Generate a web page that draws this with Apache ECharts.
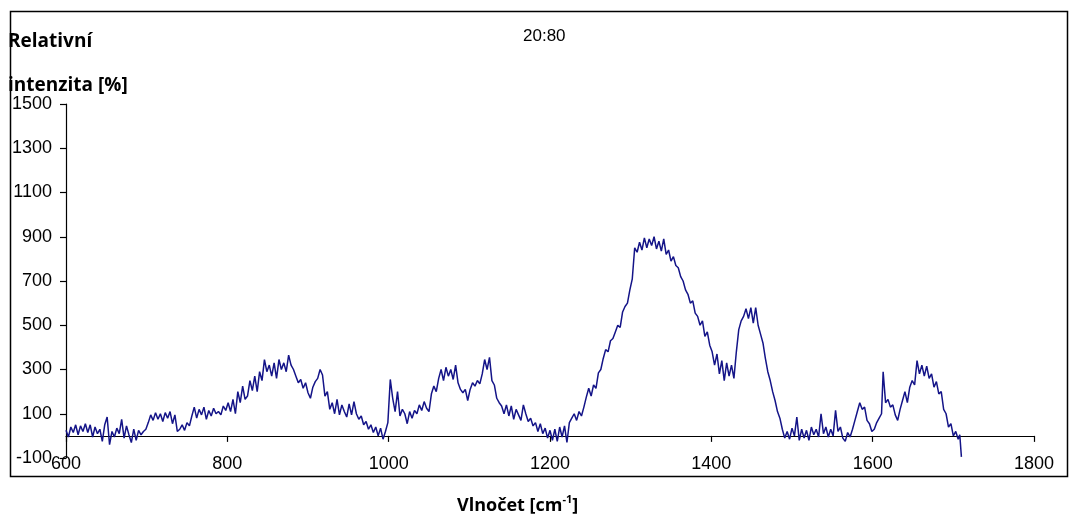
<!DOCTYPE html>
<html>
<head>
<meta charset="utf-8">
<script src="https://cdn.jsdelivr.net/npm/echarts@6/dist/echarts.min.js"></script>
<style>
html,body{margin:0;padding:0;background:#fff;}
#chart{width:1072px;height:517px;}
</style>
</head>
<body>
<div id="chart"></div>
<script>
// Wavenumbers [cm^-1]
var wavenumbers = [
600,603,606,609,612,615,618,621,624,627,630,633,636,639,642,645,648,651,654,657,660,663,666,669,672,675,678,681,684,687,690,693,696,699,
702,705,708,711,714,717,720,723,726,729,732,735,738,741,744,747,750,753,756,759,762,765,768,771,774,777,780,783,786,789,792,795,798,
801,804,807,810,813,816,819,822,825,828,831,834,837,840,843,846,849,852,855,858,861,864,867,870,873,876,879,882,885,888,891,894,897,
900,903,906,909,912,915,918,921,924,927,930,933,936,939,942,945,948,951,954,957,960,963,966,969,972,975,978,981,984,987,990,993,996,999,
1002,1005,1008,1011,1014,1017,1020,1023,1026,1029,1032,1035,1038,1041,1044,1047,1050,1053,1056,1059,1062,1065,1068,1071,1074,1077,1080,1083,1086,1089,1092,1095,1098,
1101,1104,1107,1110,1113,1116,1119,1122,1125,1128,1131,1134,1137,1140,1143,1146,1149,1152,1155,1158,1161,1164,1167,1170,1173,1176,1179,1182,1185,1188,1191,1194,1197,
1200,1203,1206,1209,1212,1215,1218,1221,1224,1227,1230,1233,1236,1239,1242,1245,1248,1251,1254,1257,1260,1263,1266,1269,1272,1275,1278,1281,1284,1287,1290,1293,1296,1299,
1302,1305,1308,1311,1314,1317,1320,1323,1326,1329,1332,1335,1338,1341,1344,1347,1350,1353,1356,1359,1362,1365,1368,1371,1374,1377,1380,1383,1386,1389,1392,1395,1398,
1401,1404,1407,1410,1413,1416,1419,1422,1425,1428,1431,1434,1437,1440,1443,1446,1449,1452,1455,1458,1461,1464,1467,1470,1473,1476,1479,1482,1485,1488,1491,1494,1497,
1500,1503,1506,1509,1512,1515,1518,1521,1524,1527,1530,1533,1536,1539,1542,1545,1548,1551,1554,1557,1560,1563,1566,1569,1572,1575,1578,1581,1584,1587,1590,1593,1596,1599,
1602,1605,1608,1611,1613,1616,1619,1622,1625,1628,1631,1634,1637,1640,1643,1646,1649,1652,1655,1658,1661,1664,1667,1670,1673,1676,1679,1682,1685,1688,1691,1694,1697,1700,1703,1706,1708,1710
];
// Relative intensity [%]
var intensity = [
25,-5,40,15,50,5,45,20,55,15,50,-5,40,10,30,-25,50,85,-40,20,-5,35,10,75,-10,45,5,-30,30,-20,25,5,20,30,
60,95,70,105,75,100,65,105,80,110,55,95,20,30,50,25,60,45,90,130,80,120,95,130,75,115,90,125,100,110,95,135,115,
150,110,165,100,200,150,225,165,180,250,205,270,200,290,250,345,290,320,270,330,260,345,300,330,290,365,320,300,270,240,255,215,240,
195,170,220,245,260,300,275,180,200,120,150,100,165,95,140,110,85,145,95,155,100,75,90,50,65,30,50,15,40,0,35,-15,20,60,
255,170,110,200,90,120,100,55,110,80,115,100,140,115,155,125,110,190,225,200,260,300,250,310,270,300,255,320,240,210,195,210,160,
210,240,225,250,235,280,345,300,355,250,230,170,150,135,100,140,90,135,75,120,95,70,140,100,65,80,45,60,20,55,10,35,-10,
25,-20,30,-25,40,-5,45,-30,60,80,100,70,110,90,130,175,215,180,230,215,285,300,350,390,380,430,440,470,500,490,560,585,600,660,
710,850,830,875,840,895,850,890,860,900,845,880,835,890,820,840,790,810,770,760,720,700,660,640,600,610,555,540,500,520,450,470,410,
380,320,370,280,340,250,330,270,320,260,380,480,520,540,575,530,580,510,580,500,460,420,350,290,250,200,160,110,80,30,-10,20,-15,
35,0,85,-20,30,-10,25,-20,40,5,30,-5,100,10,40,-5,30,0,115,20,40,-10,-25,15,-5,30,70,110,150,120,130,70,55,20,
30,60,80,100,290,150,165,130,140,95,70,120,160,200,150,220,250,230,340,280,320,270,315,260,280,220,245,190,200,120,100,40,55,0,20,-15,5,-95
];
// Axis tick labels
var xTicks = [600, 800, 1000, 1200, 1400, 1600, 1800];
var yTicks = [-100, 100, 300, 500, 700, 900, 1100, 1300, 1500];

var seriesData = wavenumbers.map(function (w, i) { return [w, intensity[i]]; });
var plain = function (v) { return String(v); };

var chart = echarts.init(document.getElementById('chart'), null, {renderer: 'canvas'});
var option = {
  animation: false,
  backgroundColor: '#ffffff',
  grid: {left: 66, right: 38, top: 104, bottom: 59, containLabel: false},
  xAxis: [
    {
      type: 'value', min: 600, max: 1800, position: 'bottom',
      axisLine: {show: false, onZero: false},
      axisTick: {show: false},
      splitLine: {show: false},
      axisLabel: {
        show: true, customValues: xTicks, margin: -3, formatter: plain,
        fontFamily: 'Liberation Sans, Arial, sans-serif', fontSize: 18, color: '#000'
      }
    },
    {
      type: 'value', min: 600, max: 1800, position: 'bottom',
      axisLine: {show: true, onZero: true, lineStyle: {color: '#000', width: 1.2}},
      axisTick: {show: true, customValues: xTicks, length: 6, lineStyle: {color: '#000', width: 1.2}},
      splitLine: {show: false},
      axisLabel: {show: false}
    }
  ],
  yAxis: {
    type: 'value', min: -100, max: 1500,
    axisLine: {show: true, onZero: false, lineStyle: {color: '#000', width: 1.2}},
    axisTick: {show: true, customValues: yTicks, length: 6, lineStyle: {color: '#000', width: 1.2}},
    splitLine: {show: false},
    axisLabel: {
      show: true, customValues: yTicks, margin: 14, formatter: plain,
      fontFamily: 'Liberation Sans, Arial, sans-serif', fontSize: 18, color: '#000'
    }
  },
  series: [{
    type: 'line',
    xAxisIndex: 0,
    data: seriesData,
    symbol: 'none',
    lineStyle: {color: '#141488', width: 1.5},
    z: 3
  }],
  graphic: [
    {type: 'rect', shape: {x: 10.5, y: 11.5, width: 1057, height: 465}, style: {fill: 'none', stroke: '#000', lineWidth: 1.5}, z: 0, silent: true},
    {type: 'text', left: 8, top: 32, style: {text: 'Relativní', font: 'bold 19px "Open Sans", sans-serif', fill: '#000'}},
    {type: 'text', left: 8, top: 76, style: {text: 'intenzita [%]', font: 'bold 19px "Open Sans", sans-serif', fill: '#000'}},
    {type: 'text', left: 523, top: 28, style: {text: '20:80', font: '17px "Liberation Sans", Arial, sans-serif', fill: '#000'}},
    {type: 'text', left: 457, top: 494, style: {
      text: '{a|Vlnočet [cm}{s|-1}{a|]}',
      rich: {
        a: {font: 'bold 18px "Open Sans", sans-serif', fill: '#000', verticalAlign: 'bottom'},
        s: {font: 'bold 11px "Open Sans", sans-serif', fill: '#000', verticalAlign: 'top', padding: [0, 0, 10, 0]}
      }
    }}
  ]
};
chart.setOption(option);
</script>
</body>
</html>
